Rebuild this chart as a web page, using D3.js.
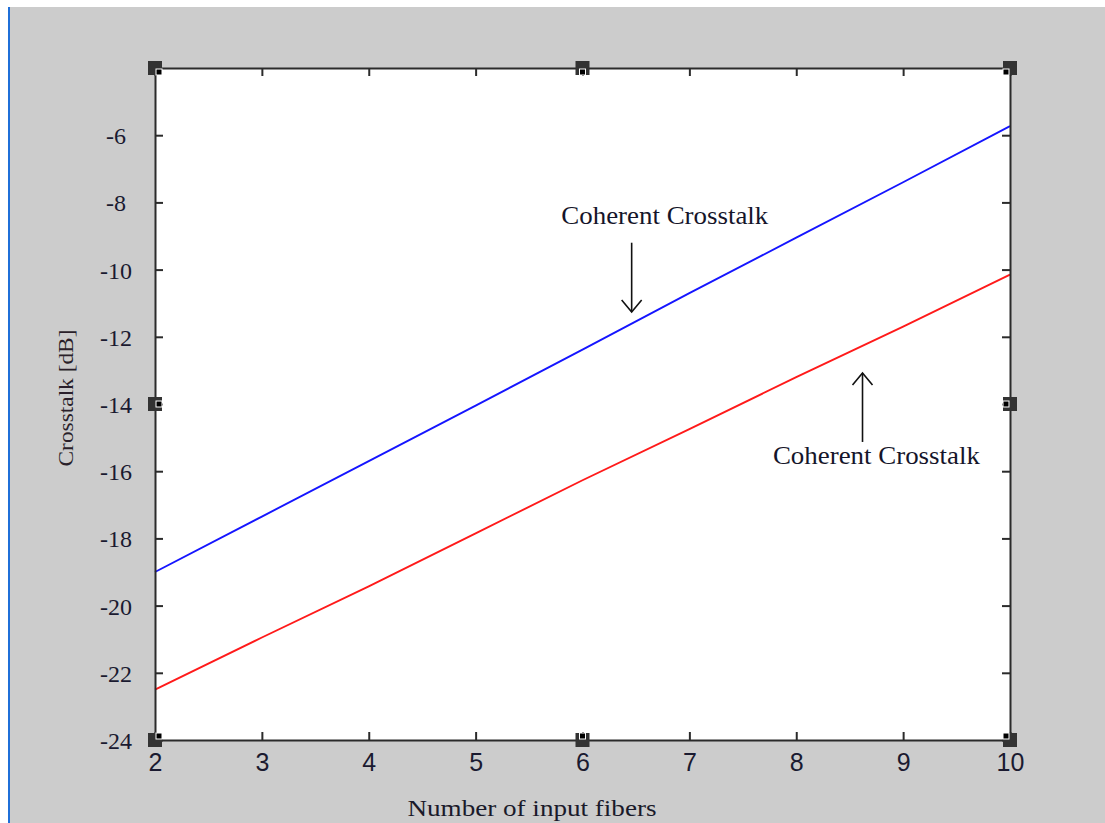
<!DOCTYPE html>
<html>
<head>
<meta charset="utf-8">
<script src="https://cdn.jsdelivr.net/npm/d3@7"></script>
<style>
  html, body { margin: 0; padding: 0; background: #ffffff; }
  svg { display: block; }
</style>
</head>
<body>
<svg id="chart" width="1105" height="823"></svg>
<script>
// ---------- data ----------
const fibers = [2, 3, 4, 5, 6, 7, 8, 9, 10];
const blueCrosstalk = [-19.0, -17.35, -15.7, -14.05, -12.38, -10.7, -9.05, -7.4, -5.73];
const redCrosstalk  = [-22.5, -20.95, -19.43, -17.85, -16.27, -14.75, -13.2, -11.7, -10.15];
const xTickValues = [2, 3, 4, 5, 6, 7, 8, 9, 10];
const yTickValues = [-24, -22, -20, -18, -16, -14, -12, -10, -8, -6];
const xDomain = [2, 10];
const yDomain = [-24, -4];
const xTitle = "Number of input fibers";
const yTitle = "Crosstalk [dB]";
const annotationText = ["Coherent Crosstalk", "Coherent Crosstalk"];
// annotation anchors in data units: [label x, label y, arrow x, arrow from y, arrow to y]
const annotationAnchors = [
  [6.77, -8.64, 6.46, -9.20, -11.26],
  [8.75, -15.80, 8.62, -15.13, -13.08]
];

// ---------- layout ----------
const svg = d3.select("#chart");
const L = 155, R = 1010, T = 68, B = 740;
const x = d3.scaleLinear().domain(xDomain).range([L, R]);
const y = d3.scaleLinear().domain(yDomain).range([B, T]);

// window background
svg.append("rect").attr("x", 0).attr("y", 0).attr("width", 1105).attr("height", 823).attr("fill", "#ffffff");
svg.append("rect").attr("x", 9).attr("y", 7).attr("width", 1096).attr("height", 816).attr("fill", "#cccccc");
svg.append("rect").attr("x", 8).attr("y", 7).attr("width", 2).attr("height", 816).attr("fill", "#1f6fd8");

// plot area
svg.append("rect").attr("x", L).attr("y", T).attr("width", R - L).attr("height", B - T).attr("fill", "#ffffff");

// series lines
const line = d3.line().x((d, i) => x(fibers[i])).y(d => y(d));
svg.append("path").datum(blueCrosstalk).attr("d", line)
  .attr("fill", "none").attr("stroke", "#1515ff").attr("stroke-width", 1.9);
svg.append("path").datum(redCrosstalk).attr("d", line)
  .attr("fill", "none").attr("stroke", "#ff1a1a").attr("stroke-width", 1.9);

// axes
const axisColor = "#2b2b2b";
function styleAxis(g) {
  g.select(".domain").attr("stroke", axisColor).attr("stroke-width", 2);
  g.selectAll(".tick line").attr("stroke", axisColor).attr("stroke-width", 2);
}
const gx = svg.append("g").attr("transform", `translate(0,${B})`)
  .call(d3.axisBottom(x).tickValues(xTickValues).tickSize(-8).tickSizeOuter(0).tickPadding(12).tickFormat(d3.format("d")));
styleAxis(gx);
gx.selectAll(".tick text").attr("font-family", "'Liberation Sans', Arial, sans-serif")
  .attr("font-size", 25).attr("fill", "#1a1a30").attr("dy", "0.71em").attr("y", 13);

const gxTop = svg.append("g").attr("transform", `translate(0,${T})`)
  .call(d3.axisTop(x).tickValues(xTickValues).tickSize(-8).tickSizeOuter(0).tickFormat(""));
styleAxis(gxTop);

const gy = svg.append("g").attr("transform", `translate(${L},0)`)
  .call(d3.axisLeft(y).tickValues(yTickValues).tickSize(-8).tickSizeOuter(0).tickFormat(d => String(d).replace("\u2212", "-")));
styleAxis(gy);
gy.selectAll(".tick text").attr("font-family", "'Liberation Serif', 'Times New Roman', serif")
  .attr("font-size", 24).attr("fill", "#1a1a30").attr("text-anchor", "middle").attr("x", -39).attr("dy", "0.35em");

const gyRight = svg.append("g").attr("transform", `translate(${R},0)`)
  .call(d3.axisRight(y).tickValues(yTickValues).tickSize(-8).tickSizeOuter(0).tickFormat(""));
styleAxis(gyRight);

// selection handles
const handles = [
  [L, T, 1, 1], [(L + R) / 2, T, 0, 1], [R, T, -1, 1],
  [L, (T + B) / 2, 1, 0], [R, (T + B) / 2, -1, 0],
  [L, B, 1, -1], [(L + R) / 2, B, 0, -1], [R, B, -1, -1]
];
const hg = svg.append("g");
handles.forEach(([cx, cy, dx, dy]) => {
  hg.append("rect").attr("x", cx - 7).attr("y", cy - 7).attr("width", 14).attr("height", 14).attr("fill", "#333333");
  const ix = dx === 0 ? cx - 3 : (dx > 0 ? cx + 1 : cx - 7);
  const iy = dy === 0 ? cy - 3 : (dy > 0 ? cy + 1 : cy - 7);
  hg.append("rect").attr("x", ix).attr("y", iy).attr("width", 6).attr("height", 6)
    .attr("fill", "#000000").attr("stroke", "#ffffff").attr("stroke-width", 1);
});

// annotations
const ag = svg.append("g");
annotationAnchors.forEach((a, i) => {
  ag.append("text").attr("x", x(a[0])).attr("y", y(a[1])).attr("text-anchor", "middle")
    .attr("font-family", "'Liberation Serif', 'Times New Roman', serif").attr("font-size", 25)
    .attr("textLength", 207).attr("lengthAdjust", "spacingAndGlyphs")
    .attr("fill", "#15152a").text(annotationText[i]);
  const ax = x(a[2]), y0 = y(a[3]), y1 = y(a[4]);
  const dir = y1 > y0 ? 1 : -1;
  ag.append("line").attr("x1", ax).attr("x2", ax).attr("y1", y0).attr("y2", y1)
    .attr("stroke", "#111").attr("stroke-width", 1.6);
  ag.append("path").attr("d", `M${ax - 10},${y1 - dir * 12} L${ax},${y1} L${ax + 10},${y1 - dir * 12}`)
    .attr("fill", "none").attr("stroke", "#111").attr("stroke-width", 1.6);
});

// axis titles
svg.append("text").attr("x", 532).attr("y", 816).attr("text-anchor", "middle")
  .attr("font-family", "'Liberation Serif', 'Times New Roman', serif").attr("font-size", 24)
  .attr("textLength", 249).attr("lengthAdjust", "spacingAndGlyphs")
  .attr("fill", "#1a1a2a").text(xTitle);
svg.append("text").attr("transform", "translate(73,398) rotate(-90)").attr("text-anchor", "middle")
  .attr("font-family", "'Liberation Serif', 'Times New Roman', serif").attr("font-size", 20)
  .attr("textLength", 137).attr("lengthAdjust", "spacingAndGlyphs")
  .attr("fill", "#2a1f2a").text(yTitle);
</script>
</body>
</html>
